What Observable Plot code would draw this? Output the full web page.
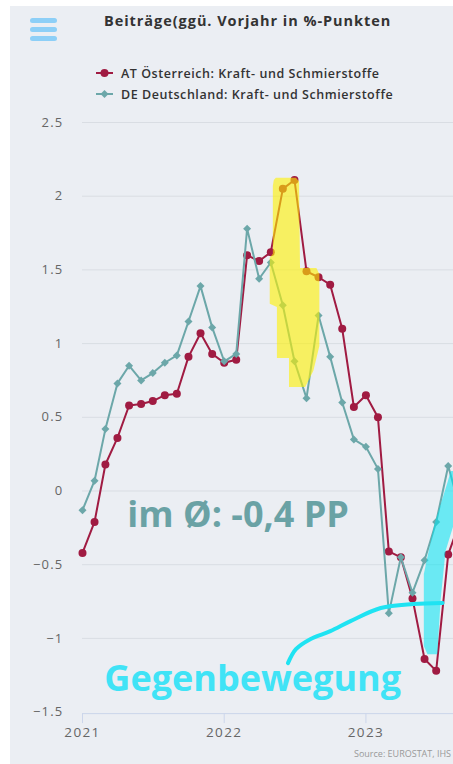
<!DOCTYPE html>
<html><head><meta charset="utf-8">
<script src="https://cdn.jsdelivr.net/npm/d3@7"></script>
<script src="https://cdn.jsdelivr.net/npm/@observablehq/plot@0.6"></script>
<style>
html,body{margin:0;padding:0;background:#fff;overflow:hidden}
#wrap{position:relative;width:453px;height:764px;overflow:hidden;font-family:"Open Sans",sans-serif}
#panel{position:absolute;left:10px;top:6px;right:0;bottom:0;background:#ebeef3}
.bar{position:absolute;left:30px;width:27px;height:5px;border-radius:3px;background:#8dcff7}
#title{position:absolute;left:104px;top:11px;white-space:nowrap;font-weight:700;font-size:14.5px;letter-spacing:0.95px;color:#333}
.leg{position:absolute;left:96px;height:16px;white-space:nowrap;font-weight:600;font-size:12.5px;letter-spacing:0.55px;color:#333;display:flex;align-items:center}
.leg svg{margin-right:8px}
#source{position:absolute;right:2px;top:747px;white-space:nowrap;font-size:9px;color:#999}
#chart{position:absolute;left:0;top:0}
#chart g[aria-label="x-axis tick label"] text{letter-spacing:1.4px}
#chart g[aria-label="y-axis tick label"] text{letter-spacing:1.2px}
</style></head>
<body>
<div id="wrap">
  <div id="panel"></div>
  <div class="bar" style="top:18px"></div>
  <div class="bar" style="top:27px"></div>
  <div class="bar" style="top:36px"></div>
  <div id="title">Beiträge(ggü. Vorjahr in %-Punkten</div>
  <div class="leg" style="top:65px"><svg width="17" height="10"><line x1="0" y1="5" x2="17" y2="5" stroke="#a01b42" stroke-width="2"/><circle cx="8.5" cy="5" r="4" fill="#a01b42"/></svg>AT Österreich: Kraft- und Schmierstoffe</div>
  <div class="leg" style="top:86px"><svg width="17" height="10"><line x1="0" y1="5" x2="17" y2="5" stroke="#6ca7a9" stroke-width="2"/><path d="M8.5,1 L12.5,5 L8.5,9 L4.5,5Z" fill="#6ca7a9"/></svg>DE Deutschland: Kraft- und Schmierstoffe</div>
  <div id="chart"></div>
  <div id="source">Source: EUROSTAT, IHS</div>
</div>
<script>
// ---- data ----
const months = ["2021-01","2021-02","2021-03","2021-04","2021-05","2021-06","2021-07","2021-08","2021-09","2021-10","2021-11","2021-12",
  "2022-01","2022-02","2022-03","2022-04","2022-05","2022-06","2022-07","2022-08","2022-09","2022-10","2022-11","2022-12",
  "2023-01","2023-02","2023-03","2023-04","2023-05","2023-06","2023-07","2023-08","2023-09"];
const atValues = [-0.42,-0.21,0.18,0.36,0.58,0.59,0.61,0.65,0.66,0.91,1.07,0.93,
  0.87,0.89,1.60,1.56,1.62,2.05,2.11,1.49,1.45,1.40,1.10,0.57,
  0.65,0.50,-0.41,-0.45,-0.73,-1.14,-1.22,-0.43,-0.20];
const deValues = [-0.13,0.07,0.42,0.73,0.85,0.75,0.80,0.87,0.92,1.15,1.39,1.11,
  0.88,0.93,1.78,1.44,1.55,1.26,0.88,0.63,1.19,0.91,0.60,0.35,
  0.30,0.15,-0.83,-0.45,-0.69,-0.47,-0.21,0.17,-0.13];
const seriesNames = ["AT Österreich: Kraft- und Schmierstoffe","DE Deutschland: Kraft- und Schmierstoffe"];
const yTicks = [-1.5,-1,-0.5,0,0.5,1,1.5,2,2.5];
const xTickLabels = ["2021","2022","2023"];
// annotation shapes in (month index, value)
const yellowM = [16.42,18.12,18.38,18.46,19.82,20.07,20.07,19.57,18.89,17.53,17.53,16.51,16.51,15.91,15.91,16.17,16.17,16.25];
const yellowV = [2.125,2.125,2.10,1.513,1.513,1.473,0.984,0.815,0.706,0.706,0.903,0.903,1.249,1.270,1.582,1.609,2.071,2.11];
const cyanM = [28.94,28.94,29.25,30.10,30.36,30.78,32.06,32.06,31.21,30.93,29.85];
const cyanV = [-0.563,-1.052,-1.107,-1.107,-0.747,-0.407,-0.068,0.136,0.136,0.056,-0.224];
const arrowM = [17.44,18.12,19.31,21.01,22.71,25.26,28.06,30.53];
const arrowV = [-1.168,-1.073,-1.005,-0.951,-0.883,-0.794,-0.767,-0.760];
const noteTexts = ["im Ø: -0,4 PP","Gegenbewegung"];
const noteM = [3.85,1.90];
const noteV = [-0.166,-1.280];
const noteColors = ["#6aa2a5","#40e3f6"];

// ---- build ----
const base = new Date(Date.UTC(2021,0,1));
const parseM = d3.utcParse("%Y-%m");
function mpos(m){const i=Math.floor(m),f=m-i;const a=d3.utcMonth.offset(base,i),b=d3.utcMonth.offset(base,i+1);return new Date(+a+f*(b-a));}
const at = months.map((m,i)=>({date:parseM(m),v:atValues[i]}));
const de = months.map((m,i)=>({date:parseM(m),v:deValues[i]}));
const yellow = yellowM.map((m,i)=>({date:mpos(m),v:yellowV[i]}));
const cyan = cyanM.map((m,i)=>({date:mpos(m),v:cyanV[i]}));
const arrow = arrowM.map((m,i)=>({date:mpos(m),v:arrowV[i]}));
const notes = noteTexts.map((t,i)=>({date:mpos(noteM[i]),v:noteV[i],t,c:noteColors[i]}));
const xTicks = xTickLabels.map(s=>d3.utcParse("%Y")(s));
const AT="#a01b42", DE="#6ca7a9";

const chart = Plot.plot({
  width:490, height:764,
  marginTop:122, marginBottom:52.4, marginLeft:82, marginRight:18.6,
  x:{type:"utc", domain:[base, new Date(Date.UTC(2023,9,1))]},
  y:{domain:[-1.5,2.5]},
  style:{background:"transparent", fontFamily:"Open Sans", fontSize:"13px", overflow:"visible"},
  marks:[
    Plot.gridY(yTicks.filter(d=>d!==-1.5), {stroke:"#d9dde3", strokeOpacity:1}),
    Plot.ruleY([-1.5], {stroke:"#ccd6eb", dy:1.5}),
    Plot.axisY(yTicks, {anchor:"left", tickSize:0, tickPadding:19, fill:"#666", fontSize:13,
      tickFormat:d=>d===0?"0":(d<0?"\u2212":"")+Math.abs(d), label:null}),
    Plot.axisX(xTicks, {anchor:"bottom", tickSize:10, tickPadding:4, stroke:"#ccd6eb", fill:"#666", fontSize:13.5,
      tickFormat:d3.utcFormat("%Y"), label:null, dy:1.5}),
    Plot.line(at, {x:"date", y:"v", stroke:AT, strokeWidth:2}),
    Plot.dot(at, {x:"date", y:"v", r:4, fill:AT, title:()=>seriesNames[0]}),
    Plot.line(de, {x:"date", y:"v", stroke:DE, strokeWidth:2}),
    Plot.dot(de, {x:"date", y:"v", r:3.6, symbol:"diamond2", fill:DE, stroke:"none", title:()=>seriesNames[1]}),
    Plot.line(yellow, {x:"date", y:"v", fill:"#fff200", fillOpacity:0.6, stroke:"none", curve:"linear-closed"}),
    Plot.line(cyan, {x:"date", y:"v", fill:"#00e6f2", fillOpacity:0.55, stroke:"none", curve:"linear-closed"}),
    Plot.line(arrow, {x:"date", y:"v", stroke:"#1fe3f2", strokeWidth:4, strokeLinecap:"round", curve:"catmull-rom"}),
    Plot.text(notes, {x:"date", y:"v", text:"t", fill:"c", fontSize:36, fontWeight:"bold", textAnchor:"start", lineAnchor:"middle"})
  ]
});
chart.style.maxWidth="none";
chart.style.height="764px";
document.getElementById("chart").appendChild(chart);
</script>
</body></html>
